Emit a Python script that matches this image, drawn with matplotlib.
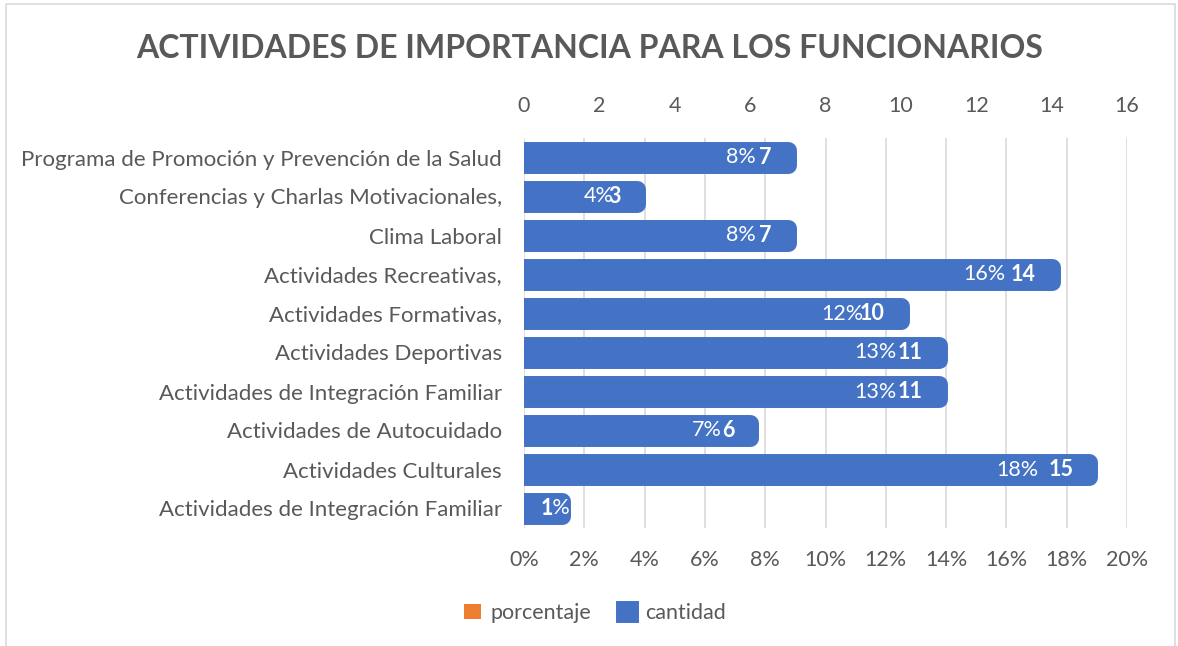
import numpy as np
import matplotlib
matplotlib.use("Agg")
import matplotlib.pyplot as plt
from matplotlib.patches import Patch
from matplotlib.lines import Line2D

plt.rcParams['font.family'] = ['Lato', 'DejaVu Sans']

actividades = [
    "Programa de Promoción y Prevención de la Salud",
    "Conferencias y Charlas Motivacionales,",
    "Clima Laboral",
    "Actividades Recreativas,",
    "Actividades Formativas,",
    "Actividades Deportivas",
    "Actividades de Integración Familiar",
    "Actividades de Autocuidado",
    "Actividades Culturales",
    "Actividades de Integración Familiar",
]
cantidad = [7, 3, 7, 14, 10, 11, 11, 6, 15, 1]
porcentaje = [0.082, 0.035, 0.082, 0.165, 0.118, 0.129, 0.129, 0.071, 0.176, 0.012]

azul = "#4472C4"
naranja = "#ED7D31"
gris = "#595959"
rejilla = "#D9D9D9"
fs = 15.5

fig = plt.figure(figsize=(11.78, 6.46), dpi=100)
ax = fig.add_axes([524 / 1178, 1 - 528 / 646, 603 / 1178, 390 / 646])
ax2 = ax.twiny()

y = np.arange(len(actividades))

# porcentaje (bottom axis), mostly hidden behind the blue bars
ax.barh(y, porcentaje, height=0.40, color=naranja, zorder=2)
ax.set_xlim(0, 0.20)
ax.set_xticks(np.arange(0, 0.201, 0.02))
ax.set_xticklabels([f"{int(round(v * 100))}%" for v in np.arange(0, 0.201, 0.02)])
ax.set_ylim(len(actividades) - 0.5, -0.5)
ax.set_yticks(y)
ax.set_yticklabels(actividades)
ax.grid(axis="x", color=rejilla, linewidth=1.2, zorder=0)
ax.set_axisbelow(True)

# cantidad (top axis) with rounded thick outline
ax2.barh(y, cantidad, height=0.40, color=azul, edgecolor=azul,
         linewidth=12.2, joinstyle="round", zorder=3)
ax2.set_xlim(0, 16)
ax2.set_xticks(range(0, 17, 2))
ax2.patch.set_visible(False)

for a in (ax, ax2):
    for s in a.spines.values():
        s.set_visible(False)
    a.tick_params(length=0, labelsize=fs, labelcolor=gris, pad=16)
ax.tick_params(axis="y", labelsize=16)

# data labels
for i in range(len(actividades)):
    if cantidad[i] < 2:
        kw = dict(xytext=(12, 0), ha="left")
        xp, xc = 0, 0
    else:
        kw = dict(xytext=(-11.5, 0), ha="right")
        xp, xc = porcentaje[i], cantidad[i]
    ax2.annotate(f"{porcentaje[i] * 100:.0f}%", xy=(xp, i), xycoords=ax.transData,
                 textcoords="offset points", va="center", color="white",
                 fontsize=fs, zorder=5, **kw)
    ax2.annotate(f"{cantidad[i]}", xy=(xc, i), textcoords="offset points",
                 va="center", color="white", fontsize=fs, fontweight="bold",
                 zorder=5, **kw)

fig.text(590 / 1178, 1 - 48 / 646, "ACTIVIDADES DE IMPORTANCIA PARA LOS FUNCIONARIOS",
         ha="center", va="center", fontsize=23, fontweight="bold", color=gris)

handles = [
    Patch(facecolor=naranja, edgecolor=naranja, linewidth=0),
    Patch(facecolor=azul, edgecolor=azul, linewidth=5, joinstyle="round"),
]
fig.legend(handles, ["porcentaje", "cantidad"], loc="center",
           bbox_to_anchor=(595 / 1178, 1 - 613 / 646), ncol=2, frameon=False,
           fontsize=fs, labelcolor=gris, handlelength=0.75, handleheight=0.75,
           handletextpad=0.45, columnspacing=1.3)

# outer chart border
fig.add_artist(Line2D([6 / 1178, 6 / 1178, 1175 / 1178, 1175 / 1178],
                      [0, 1 - 4 / 646, 1 - 4 / 646, 0],
                      transform=fig.transFigure, color=rejilla, linewidth=1.2))

fig.savefig("out.png", dpi=100)
